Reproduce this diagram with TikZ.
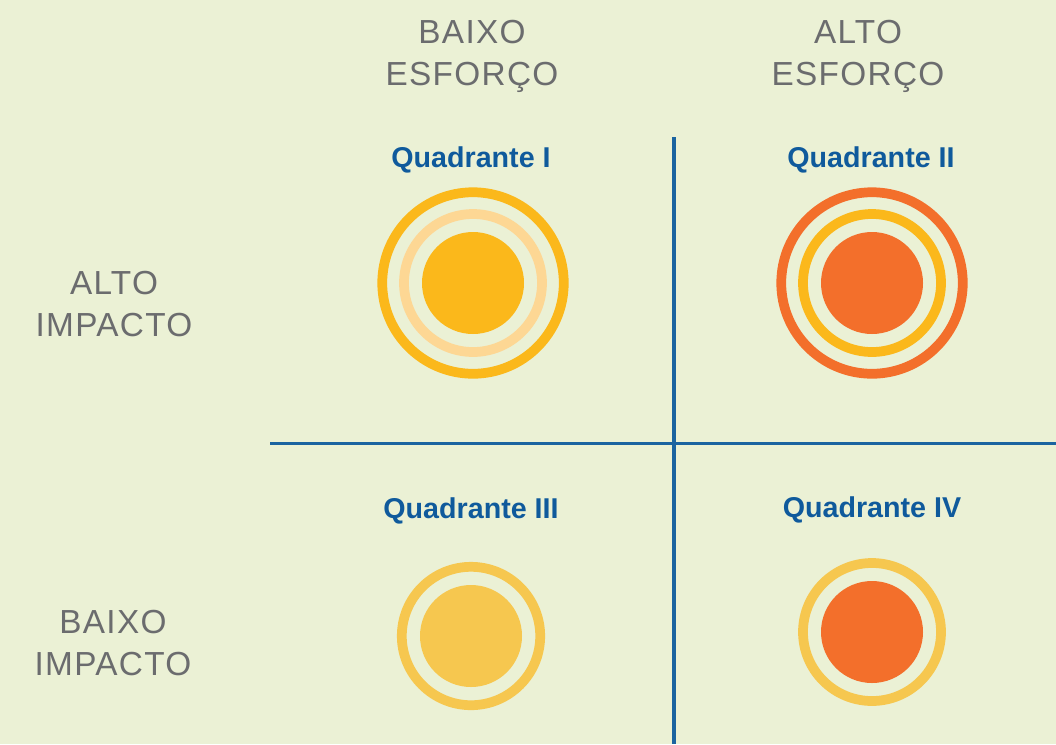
\documentclass[tikz,border=0pt]{standalone}
\usepackage{fontspec}
\setmainfont{Liberation Sans}
\definecolor{bgcream}{HTML}{EBF1D5}
\definecolor{sunyellow}{HTML}{FBB81B}
\definecolor{paleyellow}{HTML}{FDD794}
\definecolor{softyellow}{HTML}{F6C74F}
\definecolor{hotorange}{HTML}{F36F2B}
\definecolor{gridblue}{HTML}{1B64A0}
\definecolor{labelgray}{HTML}{6B6C6E}
\definecolor{quadblue}{HTML}{0F5A9C}
\tikzset{
	axislabel/.style={align=center, anchor=base, inner sep=0pt, text=labelgray,
		font=\fontsize{25}{31.5}\selectfont\addfontfeature{LetterSpace=4}},
	quadlabel/.style={anchor=base, inner sep=0pt, text=quadblue,
		font=\fontsize{21.5}{24}\selectfont\bfseries},
	ring/.style={line width=7.3pt},
	gridline/.style={line width=2.3pt, color=gridblue}
}
\begin{document}
\begin{tikzpicture}[x=0.75pt, y=-0.75pt]
			%%%%% START %%%%%
			
			\fill[bgcream] (0, 0) rectangle (1056, 744);
			\useasboundingbox (0, 0) rectangle (1056, 744);
			
			% anchor = baseline of the last line
			\node[axislabel] (lowEffort) at (472, 85) {BAIXO\\ESFOR\c{C}O};
			\node[axislabel] (highEffort) at (858, 85) {ALTO\\ESFOR\c{C}O};
			\node[axislabel] (highImpact) at (114, 336) {ALTO\\IMPACTO};
			\node[axislabel] (lowImpact) at (113, 675) {BAIXO\\IMPACTO};
			
			\draw[gridline] (674, 137) -- (674, 744);
			\draw[gridline] (270, 443.5) -- (1056, 443.5);
			
			\node[quadlabel] (quadI) at (471, 167) {Quadrante I};
			\node[quadlabel] (quadII) at (871, 167) {Quadrante II};
			\node[quadlabel] (quadIII) at (471, 518) {Quadrante III};
			\node[quadlabel] (quadIV) at (872, 517) {Quadrante IV};
			
			\draw[ring, color=sunyellow] (473, 283) circle (90.75);
			\draw[ring, color=paleyellow] (473, 283) circle (69);
			\fill[sunyellow] (473, 283) circle (51);
			
			\draw[ring, color=hotorange] (872, 283) circle (90.75);
			\draw[ring, color=sunyellow] (872, 283) circle (69);
			\fill[hotorange] (872, 283) circle (51);
			
			\draw[ring, color=softyellow] (471, 636) circle (69.2);
			\fill[softyellow] (471, 636) circle (51);
			
			\draw[ring, color=softyellow] (872, 632) circle (69);
			\fill[hotorange] (872, 632) circle (51);
			
			%%%%% END %%%%%
\end{tikzpicture}
\end{document}
